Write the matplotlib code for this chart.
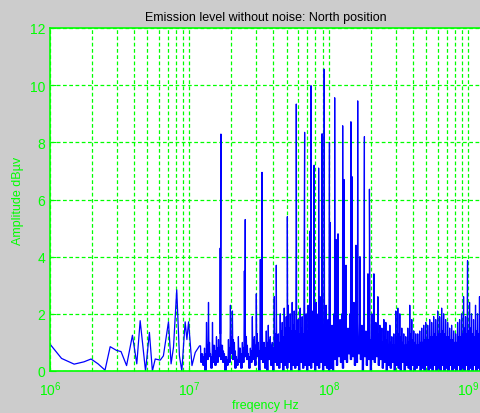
import numpy as np
import matplotlib.pyplot as plt
from matplotlib.ticker import LogLocator, MultipleLocator, NullFormatter

# low frequency part (MHz), individual samples still visible
low_freq = [1.00, 1.21, 1.49, 1.75, 1.97, 2.21, 2.48, 2.70, 3.00, 3.23,
            3.54, 3.90, 4.19, 4.43, 4.84, 5.16, 5.42, 5.68, 6.17, 6.50,
            7.07, 7.38, 7.68, 8.10, 8.47, 8.81, 9.31, 9.58, 9.85, 10.42,
            11.00, 11.80]
low_amp = [0.94, 0.44, 0.24, 0.32, 0.42, 0.25, 0.03, 0.85, 0.72, 0.68,
           0.19, 1.25, 0.25, 1.76, 0.00, 1.35, 0.00, 0.42, 0.38, 0.53,
           1.72, 0.25, 0.83, 2.84, 0.53, 0.00, 1.72, 1.10, 1.72, 0.19,
           0.65, 0.88]

# dense part 12 MHz .. 1.23 GHz: top of the excursions, floor, top of the solid core
band_start, band_stop = 12.0, 1230.0
band_hi = [0.88, 0.60, 0.80, 1.70, 2.40, 0.60, 1.70, 0.90, 1.20, 1.10,
           1.30, 0.90, 0.60, 0.50, 1.10, 2.30, 2.10, 1.00, 0.50, 1.20,
           0.80, 1.00, 3.50, 1.20, 0.60, 0.80, 1.90, 1.20, 2.70, 1.00,
           3.90, 1.50, 1.00, 1.40, 1.60, 1.20, 1.00, 2.60, 1.60, 1.30,
           2.00, 1.70, 2.20, 1.90, 2.30, 2.00, 2.40, 2.10, 4.60, 1.80,
           2.20, 1.90, 4.70, 2.00, 2.30, 4.90, 2.10, 7.20, 2.40, 2.00,
           2.60, 8.30, 3.00, 2.30, 1.80, 5.20, 1.60, 2.00, 4.60, 4.80,
           1.80, 2.00, 6.70, 3.70, 1.50, 2.00, 6.80, 2.40, 4.40, 1.70,
           4.00, 1.60, 2.00, 1.40, 3.40, 1.80, 2.00, 3.40, 1.70, 2.60,
           1.60, 1.50, 1.80, 1.70, 1.40, 1.60, 1.20, 1.30, 2.10, 2.20,
           2.00, 1.50, 1.30, 1.20, 1.50, 2.30, 1.80, 1.40, 1.30, 1.30,
           1.40, 1.50, 1.60, 1.70, 1.60, 1.80, 1.70, 1.90, 1.80, 2.10,
           1.90, 2.20, 2.00, 1.80, 1.70, 1.50, 1.60, 1.40, 1.30, 1.70,
           1.80, 2.00, 2.60, 1.90, 2.30, 2.40, 2.00, 1.80, 2.30, 2.00,
           2.60]
band_lo = [0.30, 0.20, 0.00, 0.40, 0.50, 0.10, 0.30, 0.20, 0.30, 0.50,
           0.40, 0.30, 0.00, 0.20, 0.30, 0.60, 0.40, 0.10, 0.20, 0.30,
           0.10, 0.30, 0.50, 0.40, 0.10, 0.30, 0.40, 0.20, 0.50, 0.00,
           0.40, 0.30, 0.10, 0.00, 0.40, 0.20, 0.00, 0.30, 0.20, 0.10,
           0.30, 0.00, 0.20, 0.10, 0.30, 0.00, 0.20, 0.10, 0.20, 0.00,
           0.30, 0.10, 0.20, 0.00, 0.20, 0.10, 0.30, 0.00, 0.20, 0.10,
           0.30, 0.00, 0.20, 0.10, 0.00, 0.10, 0.00, 0.40, 0.20, 0.50,
           0.30, 0.10, 0.40, 0.30, 0.60, 0.40, 0.50, 0.20, 0.30, 0.60,
           0.40, 0.00, 0.50, 0.20, 0.40, 0.00, 0.40, 0.30, 0.50, 0.20,
           0.40, 0.10, 0.30, 0.00, 0.20, 0.10, 0.30, 0.00, 0.20, 0.10,
           0.00, 0.30, 0.00, 0.20, 0.10, 0.00, 0.20, 0.00, 0.10, 0.20,
           0.00, 0.10, 0.00, 0.20, 0.00, 0.10, 0.00, 0.20, 0.00, 0.10,
           0.00, 0.20, 0.00, 0.10, 0.00, 0.20, 0.00, 0.10, 0.00, 0.20,
           0.00, 0.10, 0.00, 0.20, 0.00, 0.10, 0.00, 0.20, 0.00, 0.10,
           0.00]
band_core = [0.6, 0.5, 0.6, 0.9, 1.0, 0.5, 0.9, 0.7, 0.8, 0.8,
             0.9, 0.7, 0.5, 0.4, 0.8, 1.2, 1.1, 0.7, 0.4, 0.8,
             0.6, 0.8, 1.4, 0.9, 0.5, 0.7, 1.1, 0.9, 1.3, 0.7,
             1.5, 1.0, 0.8, 1.0, 1.1, 0.9, 0.8, 1.3, 1.1, 1.0,
             1.4, 1.2, 1.5, 1.3, 1.5, 1.4, 1.6, 1.4, 1.7, 1.3,
             1.5, 1.3, 1.6, 1.4, 1.5, 1.7, 1.4, 1.3, 1.5, 1.4,
             1.6, 1.4, 1.6, 1.5, 1.2, 1.5, 1.1, 1.2, 1.4, 1.5,
             1.1, 1.2, 1.5, 1.3, 1.0, 1.2, 1.5, 1.3, 1.4, 1.0,
             1.3, 1.0, 1.2, 1.0, 1.5, 1.1, 1.2, 1.5, 1.1, 1.3,
             1.0, 1.0, 1.2, 1.1, 0.9, 1.0, 0.9, 0.9, 1.2, 1.3,
             1.2, 1.0, 0.9, 0.9, 1.0, 1.3, 1.1, 1.0, 0.9, 0.9,
             1.0, 1.0, 1.1, 1.1, 1.1, 1.2, 1.2, 1.3, 1.2, 1.3,
             1.3, 1.4, 1.3, 1.2, 1.2, 1.1, 1.1, 1.0, 1.0, 1.2,
             1.2, 1.3, 1.5, 1.3, 1.4, 1.5, 1.3, 1.2, 1.4, 1.3,
             1.5]

# harmonic spikes (MHz, dBuV)
spike_freq = [16.6, 16.8, 25.1, 33.1, 41.9, 50.3, 58.3, 66.9, 74.4, 84.3,
              92.4, 100.8, 109.9, 125.4, 143.6, 160.7, 179.5, 195.0, 985.0]
spike_amp = [4.30, 8.29, 5.30, 6.95, 3.70, 5.40, 9.34, 8.35, 9.98, 7.10,
             10.56, 8.00, 9.56, 8.58, 8.72, 9.45, 8.20, 6.36, 3.86]

n = len(band_hi)
band_f = np.geomspace(band_start, band_stop, 4 * n)
band_a = np.empty(4 * n)
band_a[0::4] = band_hi
band_a[1::4] = band_lo
band_a[2::4] = band_core
band_a[3::4] = band_lo

f = np.concatenate([low_freq, band_f, spike_freq])
a = np.concatenate([low_amp, band_a, spike_amp])
idx = np.argsort(f)
f = f[idx] * 1e6
a = a[idx]

green = '#00ff00'
plt.rcParams['font.family'] = ['Liberation Sans', 'DejaVu Sans']
plt.rcParams['mathtext.default'] = 'regular'

fig = plt.figure(figsize=(4.81, 4.14), dpi=100, facecolor='#cccccc')
ax = fig.add_axes([50 / 481, 1 - 372 / 414, 431 / 481, 343 / 414])
ax.set_facecolor('white')

ax.plot(f, a, color='#0000ff', lw=0.9)

ax.set_xscale('log')
ax.set_xlim(1e6, 1.23e9)
ax.set_ylim(0, 12)
ax.yaxis.set_major_locator(MultipleLocator(2))
ax.xaxis.set_major_locator(LogLocator(base=10, numticks=10))
ax.xaxis.set_minor_locator(LogLocator(base=10, subs=np.arange(2, 10), numticks=20))
ax.xaxis.set_minor_formatter(NullFormatter())

dash = (0, (3, 2))
ax.grid(True, which='major', color=green, ls=dash, lw=0.9)
ax.grid(True, which='minor', axis='x', color=green, ls=dash, lw=0.9)
ax.set_axisbelow(True)

for s in ax.spines.values():
    s.set_color(green)
    s.set_linewidth(1.2)
ax.spines['right'].set_visible(False)
ax.tick_params(which='both', colors=green, direction='in', labelsize=10)
ax.tick_params(axis='x', pad=6)
ax.tick_params(which='minor', length=2)
ax.tick_params(which='major', length=4)

ax.set_title('Emission level without noise: North position', fontsize=9, color='black', pad=6)
ax.set_xlabel('freqency Hz', color=green, fontsize=9, labelpad=1)
ax.set_ylabel('Amplitude dBµv', color=green, fontsize=9, labelpad=4)

fig.savefig('out.png', dpi=100, facecolor=fig.get_facecolor())
